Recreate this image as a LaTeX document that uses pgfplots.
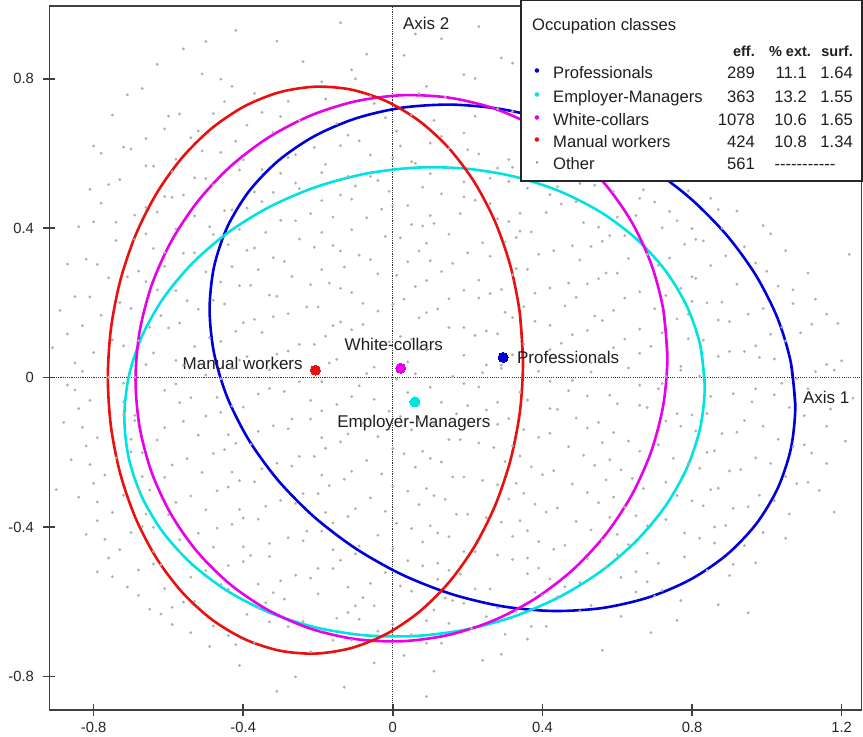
\documentclass[border=0pt]{standalone}
\usepackage{fontspec}
\setmainfont{Liberation Sans}
\usepackage{pgfplots}
\pgfplotsset{compat=1.18}
\definecolor{cBlue}{HTML}{0000D8}
\definecolor{cCyan}{HTML}{00E3E3}
\definecolor{cMag}{HTML}{E800E8}
\definecolor{cRed}{HTML}{EA1010}
\definecolor{cloud}{HTML}{B0B0B0}
\newcommand\lblfont{\fontsize{17}{20}\selectfont}
\newcommand\legfont{\fontsize{16.6}{19}\selectfont}
\newcommand\hdfont{\bfseries\fontsize{14.5}{17}\selectfont}
\newcommand\hy{-\kern0pt}
\begin{document}
\begin{tikzpicture}
\path[use as bounding box] (-49.5pt,-27pt) rectangle (813.5pt,710pt);
\begin{axis}[
 at={(0pt,0pt)}, anchor=south west,
 width=812pt, height=704pt, scale only axis,
 xmin=-0.918, xmax=1.253, ymin=-0.890, ymax=0.995,
 xtick={-0.8,-0.4,0,0.4,0.8,1.2}, ytick={-0.8,-0.4,0,0.4,0.8},
 tick pos=left, tick align=center, major tick length=12pt,
 axis line style={black!75, line width=1.5pt},
 tick style={black!75, line width=1.5pt},
 ticklabel style={font=\fontsize{14.8}{17}\selectfont, text=black!85},
 yticklabel style={xshift=-6pt},
 xticklabel style={yshift=-3pt},
 /pgf/number format/assume math mode=true,
]
% cloud of individuals
\addplot[only marks, color=cloud, mark=*, mark size=1.35pt, mark options={draw=cloud, fill=cloud, line width=0.2pt}] coordinates {
(-0.42,0.93) (-0.14,0.95) (0.06,0.92) (0.23,0.94)
(-0.56,0.88) (-0.31,0.901) (-0.07,0.866) (0.13,0.907) (0.29,0.856)
(-0.63,0.839) (-0.46,0.799) (-0.24,0.846) (-0.11,0.824) (0.03,0.863) (0.19,0.811) (0.32,0.842)
(-0.67,0.774) (-0.51,0.813) (-0.37,0.761) (-0.19,0.792) (-0.06,0.753) (0.09,0.78) (0.22,0.801) (0.35,0.766)
(-0.71,0.757) (-0.57,0.706) (-0.45,0.739) (-0.3,0.699) (-0.18,0.746) (-0.05,0.734) (0.05,0.704) (0.14,0.751) (0.28,0.72) (0.39,0.742)
(-0.75,0.703) (-0.61,0.666) (-0.48,0.707) (-0.39,0.676) (-0.25,0.689) (-0.12,0.649) (-0.02,0.696) (0.11,0.689) (0.19,0.655) (0.32,0.713) (0.45,0.661)
(-0.7,0.612) (-0.54,0.642) (-0.46,0.603) (-0.32,0.657) (-0.21,0.616) (-0.09,0.634) (0.02,0.62) (0.13,0.646) (0.23,0.599) (0.36,0.654) (0.46,0.63)
(-0.78,0.601) (-0.64,0.566) (-0.51,0.607) (-0.41,0.556) (-0.28,0.589) (-0.19,0.549) (-0.06,0.596) (0.06,0.574) (0.15,0.613) (0.28,0.561) (0.38,0.592) (0.51,0.553)
(-0.73,0.53) (-0.59,0.551) (-0.48,0.516) (-0.35,0.557) (-0.25,0.506) (-0.12,0.539) (-0.01,0.499) (0.1,0.546) (0.19,0.524) (0.32,0.563) (0.44,0.511) (0.56,0.542) (0.67,0.503) (0.81,0.534)
(-0.81,0.504) (-0.66,0.456) (-0.56,0.489) (-0.43,0.449) (-0.32,0.496) (-0.19,0.474) (-0.1,0.513) (0.04,0.461) (0.13,0.492) (0.26,0.466) (0.36,0.507) (0.49,0.471) (0.59,0.498) (0.74,0.445) (0.85,0.48)
(-0.74,0.416) (-0.63,0.443) (-0.49,0.404) (-0.39,0.454) (-0.26,0.42) (-0.16,0.43) (-0.03,0.451) (0.08,0.406) (0.18,0.439) (0.31,0.418) (0.41,0.442) (0.55,0.403) (0.65,0.434) (0.8,0.399) (0.92,0.446)
(-0.84,0.404) (-0.69,0.37) (-0.58,0.398) (-0.44,0.356) (-0.34,0.389) (-0.21,0.349) (-0.11,0.396) (0.02,0.374) (0.11,0.413) (0.24,0.361) (0.34,0.392) (0.48,0.353) (0.58,0.38) (0.72,0.401) (0.83,0.366) (0.99,0.407)
(-0.79,0.303) (-0.64,0.346) (-0.53,0.334) (-0.39,0.341) (-0.29,0.311) (-0.16,0.354) (-0.06,0.316) (0.07,0.339) (0.16,0.306) (0.3,0.363) (0.39,0.33) (0.53,0.351) (0.63,0.319) (0.78,0.357) (0.89,0.326) (1.05,0.34)
(-0.87,0.304) (-0.71,0.27) (-0.61,0.298) (-0.46,0.256) (-0.36,0.289) (-0.22,0.249) (-0.13,0.296) (0.01,0.274) (0.1,0.313) (0.23,0.261) (0.33,0.292) (0.47,0.253) (0.57,0.28) (0.71,0.301) (0.81,0.266) (0.97,0.307) (1.11,0.28)
(-0.81,0.216) (-0.66,0.257) (-0.55,0.206) (-0.41,0.246) (-0.31,0.218) (-0.17,0.253) (-0.08,0.199) (0.06,0.244) (0.15,0.211) (0.29,0.236) (0.38,0.226) (0.52,0.251) (0.62,0.213) (0.77,0.239) (0.88,0.202) (1.03,0.245)
(-0.89,0.18) (-0.73,0.201) (-0.62,0.166) (-0.48,0.207) (-0.37,0.156) (-0.23,0.189) (-0.14,0.149) (0,0.196) (0.09,0.174) (0.23,0.213) (0.32,0.161) (0.46,0.192) (0.56,0.153) (0.7,0.184) (0.8,0.204) (0.95,0.17) (1.07,0.198) (1.19,0.145)
(-0.83,0.139) (-0.68,0.099) (-0.57,0.146) (-0.42,0.124) (-0.32,0.163) (-0.18,0.111) (-0.08,0.142) (0.05,0.103) (0.15,0.134) (0.28,0.117) (0.38,0.151) (0.52,0.126) (0.62,0.103) (0.76,0.157) (0.87,0.154) (1.01,0.116) (1.12,0.143)
(-0.91,0.08) (-0.75,0.101) (-0.64,0.066) (-0.49,0.107) (-0.39,0.056) (-0.25,0.089) (-0.15,0.049) (-0.01,0.096) (0.09,0.074) (0.22,0.113) (0.32,0.061) (0.45,0.092) (0.55,0.053) (0.69,0.084) (0.79,0.104) (0.94,0.07) (1.05,0.098) (1.2,0.045)
(-0.85,0.039) (-0.69,0.001) (-0.58,0.046) (-0.43,0.024) (-0.31,0.063) (-0.07,0.011) (0.04,0.042) (0.16,0.003) (0.25,0.034) (0.39,0.017) (0.49,0.051) (0.63,0.026) (0.73,0.003) (0.87,0.057) (0.98,0.054) (1.13,0.016)
(-0.87,-0.02) (-0.76,0.001) (-0.61,-0.034) (-0.5,0.007) (-0.36,-0.044) (-0.25,-0.011) (-0.11,-0.051) (0.01,-0.004) (0.1,-0.026) (0.24,0.013) (0.34,-0.039) (0.48,-0.008) (0.58,-0.047) (0.72,-0.016) (0.82,0.004) (0.97,-0.03) (1.08,-0.002) (1.23,-0.055)
(-0.81,-0.061) (-0.69,-0.101) (-0.54,-0.054) (-0.43,-0.076) (-0.29,-0.037) (-0.19,-0.089) (-0.05,-0.058) (0.17,-0.097) (0.28,-0.066) (0.42,-0.083) (0.52,-0.049) (0.66,-0.074) (0.76,-0.097) (0.91,-0.043) (1.02,-0.046) (1.17,-0.084)
(-0.88,-0.12) (-0.72,-0.099) (-0.61,-0.134) (-0.46,-0.093) (-0.36,-0.144) (-0.22,-0.111) (-0.12,-0.151) (0.02,-0.104) (0.11,-0.126) (0.25,-0.087) (0.35,-0.139) (0.49,-0.108) (0.59,-0.147) (0.73,-0.116) (0.84,-0.096) (0.99,-0.13) (1.1,-0.102)
(-0.79,-0.161) (-0.67,-0.201) (-0.52,-0.154) (-0.42,-0.176) (-0.28,-0.137) (-0.18,-0.189) (-0.04,-0.158) (0.08,-0.197) (0.18,-0.166) (0.32,-0.183) (0.42,-0.149) (0.56,-0.174) (0.66,-0.197) (0.81,-0.143) (0.92,-0.146) (1.07,-0.184) (1.21,-0.17)
(-0.86,-0.22) (-0.7,-0.199) (-0.59,-0.234) (-0.45,-0.193) (-0.35,-0.244) (-0.21,-0.211) (-0.11,-0.251) (0.03,-0.204) (0.13,-0.226) (0.27,-0.187) (0.37,-0.239) (0.51,-0.208) (0.61,-0.247) (0.75,-0.216) (0.86,-0.196) (1.01,-0.23) (1.12,-0.202)
(-0.77,-0.261) (-0.65,-0.301) (-0.51,-0.254) (-0.41,-0.276) (-0.27,-0.237) (-0.17,-0.289) (-0.03,-0.258) (0.09,-0.297) (0.19,-0.266) (0.33,-0.283) (0.43,-0.249) (0.57,-0.274) (0.67,-0.297) (0.82,-0.243) (0.93,-0.246) (1.08,-0.284)
(-0.84,-0.32) (-0.68,-0.299) (-0.58,-0.334) (-0.44,-0.293) (-0.34,-0.344) (-0.2,-0.311) (-0.1,-0.351) (0.04,-0.304) (0.14,-0.326) (0.28,-0.287) (0.38,-0.339) (0.52,-0.308) (0.62,-0.347) (0.76,-0.316) (0.87,-0.296) (1.02,-0.33) (1.14,-0.302)
(-0.75,-0.361) (-0.64,-0.401) (-0.5,-0.354) (-0.4,-0.376) (-0.26,-0.337) (-0.16,-0.389) (-0.02,-0.358) (0.1,-0.397) (0.2,-0.366) (0.34,-0.383) (0.44,-0.349) (0.58,-0.374) (0.68,-0.397) (0.83,-0.343) (0.95,-0.346)
(-0.82,-0.42) (-0.67,-0.399) (-0.57,-0.434) (-0.43,-0.393) (-0.33,-0.444) (-0.19,-0.411) (-0.09,-0.451) (0.05,-0.404) (0.15,-0.426) (0.29,-0.387) (0.39,-0.439) (0.53,-0.408) (0.63,-0.447) (0.78,-0.416) (0.89,-0.396) (1.05,-0.43)
(-0.73,-0.461) (-0.62,-0.501) (-0.48,-0.454) (-0.38,-0.476) (-0.24,-0.437) (-0.14,-0.489) (0,-0.458) (0.12,-0.497) (0.22,-0.466) (0.36,-0.483) (0.46,-0.449) (0.6,-0.474) (0.71,-0.497) (0.86,-0.443)
(-0.79,-0.52) (-0.64,-0.499) (-0.54,-0.534) (-0.4,-0.493) (-0.3,-0.544) (-0.16,-0.511) (-0.06,-0.551) (0.08,-0.504) (0.18,-0.526) (0.32,-0.487) (0.42,-0.539) (0.57,-0.508) (0.68,-0.547) (0.84,-0.516) (0.97,-0.496)
(-0.71,-0.561) (-0.56,-0.601) (-0.46,-0.554) (-0.32,-0.576) (-0.22,-0.537) (-0.08,-0.589) (0.02,-0.558) (0.16,-0.597) (0.26,-0.566) (0.4,-0.583) (0.5,-0.549) (0.65,-0.574) (0.77,-0.597)
(-0.65,-0.62) (-0.53,-0.599) (-0.39,-0.634) (-0.29,-0.593) (-0.15,-0.644) (-0.05,-0.611) (0.09,-0.651) (0.19,-0.604) (0.33,-0.626) (0.44,-0.587) (0.61,-0.639) (0.87,-0.608)
(-0.59,-0.661) (-0.44,-0.691) (-0.33,-0.654) (-0.19,-0.676) (-0.09,-0.647) (0.05,-0.689) (0.15,-0.658) (0.3,-0.687) (0.41,-0.666) (0.69,-0.683)
(-0.49,-0.72) (-0.37,-0.709) (-0.22,-0.734) (-0.11,-0.703) (0.03,-0.744) (0.13,-0.711) (0.29,-0.741)
(-0.41,-0.771) (-0.26,-0.801) (-0.05,-0.764) (0.11,-0.786) (0.24,-0.757)
(-0.31,-0.84) (-0.13,-0.829) (0.09,-0.854)
(1.22,0.33) (1.18,-0.36) (0.95,-0.63) (0.56,-0.73) (-0.5,0.9) (-0.8,0.62) (-0.9,-0.3) (0.17,-0.9)
(-0.72,0.617) (-0.58,0.585) (-0.42,0.633) (-0.26,0.597) (-0.14,0.621) (0.0,0.589) (0.1,0.628) (0.2,0.61) (0.31,0.584)
(-0.66,0.567) (-0.53,0.535) (-0.4,0.583) (-0.3,0.547) (-0.18,0.571) (-0.06,0.539) (0.05,0.578) (0.15,0.56) (0.26,0.534) (0.38,0.575) (0.5,0.52) (0.62,0.55) (0.74,0.53)
(-0.76,0.517) (-0.61,0.485) (-0.5,0.533) (-0.37,0.497) (-0.26,0.521) (-0.14,0.489) (-0.04,0.528) (0.08,0.51) (0.19,0.484) (0.31,0.525) (0.42,0.49) (0.54,0.515) (0.66,0.48) (0.79,0.5)
(-0.78,0.467) (-0.69,0.435) (-0.59,0.483) (-0.45,0.447) (-0.35,0.471) (-0.22,0.439) (-0.11,0.478) (0.0,0.46) (0.1,0.434) (0.22,0.475) (0.34,0.44) (0.45,0.465) (0.6,0.43) (0.7,0.47) (0.87,0.45)
(-0.8,0.417) (-0.66,0.385) (-0.53,0.433) (-0.41,0.397) (-0.3,0.421) (-0.19,0.389) (-0.07,0.428) (0.05,0.41) (0.15,0.384) (0.28,0.425) (0.37,0.39) (0.51,0.415) (0.62,0.38) (0.76,0.42) (0.88,0.4) (1.01,0.385)
(-0.74,0.367) (-0.61,0.335) (-0.48,0.383) (-0.37,0.347) (-0.25,0.371) (-0.14,0.339) (-0.02,0.378) (0.09,0.36) (0.2,0.334) (0.33,0.375) (0.43,0.34) (0.56,0.365) (0.68,0.33) (0.81,0.37) (0.94,0.35)
(-0.82,0.317) (-0.68,0.285) (-0.56,0.333) (-0.43,0.297) (-0.32,0.321) (-0.19,0.289) (-0.09,0.328) (0.04,0.31) (0.13,0.284) (0.26,0.325) (0.36,0.29) (0.5,0.315) (0.6,0.28) (0.74,0.32) (0.85,0.3) (1.0,0.285)
(-0.76,0.267) (-0.63,0.235) (-0.5,0.283) (-0.38,0.247) (-0.27,0.271) (-0.14,0.239) (-0.04,0.278) (0.09,0.26) (0.19,0.234) (0.32,0.275) (0.42,0.24) (0.55,0.265) (0.66,0.23) (0.8,0.27) (0.92,0.25) (1.07,0.235)
(-0.85,0.217) (-0.7,0.185) (-0.58,0.233) (-0.45,0.197) (-0.33,0.221) (-0.2,0.189) (-0.11,0.228) (0.03,0.21) (0.12,0.184) (0.26,0.225) (0.35,0.19) (0.49,0.215) (0.59,0.18) (0.73,0.22) (0.84,0.2) (0.99,0.185) (1.13,0.21)
(-0.78,0.167) (-0.65,0.135) (-0.52,0.183) (-0.4,0.147) (-0.28,0.171) (-0.16,0.139) (-0.04,0.178) (0.07,0.16) (0.19,0.134) (0.3,0.175) (0.42,0.14) (0.54,0.165) (0.66,0.13) (0.79,0.17) (0.9,0.15) (1.04,0.135) (1.16,0.17)
(-0.87,0.117) (-0.72,0.085) (-0.6,0.133) (-0.46,0.097) (-0.35,0.121) (-0.21,0.089) (-0.11,0.128) (0.02,0.11) (0.12,0.084) (0.25,0.125) (0.35,0.09) (0.48,0.115) (0.59,0.08) (0.72,0.12) (0.83,0.1) (0.97,0.085) (1.09,0.12)
(-0.8,0.067) (-0.66,0.035) (-0.53,0.083) (-0.41,0.047) (-0.28,0.071) (-0.17,0.039) (0.07,0.078) (0.19,0.06) (0.29,0.034) (0.42,0.075) (0.53,0.04) (0.66,0.065) (0.77,0.03) (0.9,0.07) (1.02,0.05) (1.16,0.035)
(-0.83,0.017) (-0.72,-0.015) (-0.56,0.033) (-0.46,-0.003) (-0.33,0.021) (-0.19,-0.011) (-0.05,0.028) (0.06,0.01) (0.19,-0.016) (0.29,0.025) (0.42,-0.01) (0.53,0.015) (0.66,-0.02) (0.77,0.02) (0.9,0.0) (1.04,-0.015) (1.18,0.02)
(-0.85,-0.033) (-0.72,-0.065) (-0.58,-0.017) (-0.47,-0.053) (-0.33,-0.029) (-0.22,-0.061) (-0.09,-0.022) (0.04,-0.04) (0.13,-0.066) (0.23,-0.025) (0.36,-0.06) (0.47,-0.035) (0.6,-0.07) (0.71,-0.03) (0.85,-0.05) (0.96,-0.065) (1.11,-0.03)
(-0.84,-0.083) (-0.69,-0.115) (-0.57,-0.067) (-0.5,-0.103) (-0.4,-0.079) (-0.27,-0.111) (-0.15,-0.072) (-0.01,-0.09) (0.07,-0.116) (0.2,-0.075) (0.31,-0.11) (0.44,-0.085) (0.55,-0.12) (0.68,-0.08) (0.8,-0.1) (0.94,-0.115) (1.06,-0.08)
(-0.83,-0.133) (-0.7,-0.165) (-0.56,-0.117) (-0.44,-0.153) (-0.32,-0.129) (-0.19,-0.161) (-0.08,-0.122) (0.05,-0.14) (0.15,-0.166) (0.28,-0.125) (0.39,-0.16) (0.52,-0.135) (0.63,-0.17) (0.77,-0.13) (0.88,-0.15) (1.03,-0.165) (1.16,-0.13)
(-0.82,-0.183) (-0.74,-0.215) (-0.63,-0.167) (-0.48,-0.203) (-0.38,-0.179) (-0.25,-0.211) (-0.14,-0.172) (0.0,-0.19) (0.1,-0.216) (0.23,-0.175) (0.34,-0.21) (0.47,-0.185) (0.58,-0.22) (0.71,-0.18) (0.84,-0.2) (0.97,-0.215) (1.1,-0.18)
(-0.81,-0.233) (-0.67,-0.265) (-0.55,-0.217) (-0.43,-0.253) (-0.31,-0.229) (-0.19,-0.261) (-0.07,-0.222) (0.06,-0.24) (0.16,-0.266) (0.3,-0.225) (0.4,-0.26) (0.54,-0.235) (0.64,-0.27) (0.79,-0.23) (0.9,-0.25) (1.05,-0.265) (1.16,-0.23)
(-0.8,-0.283) (-0.72,-0.315) (-0.61,-0.267) (-0.47,-0.303) (-0.37,-0.279) (-0.24,-0.311) (-0.13,-0.272) (0.0,-0.29) (0.11,-0.316) (0.24,-0.275) (0.35,-0.31) (0.48,-0.285) (0.59,-0.32) (0.73,-0.28) (0.85,-0.3) (0.98,-0.315) (1.11,-0.28)
(-0.79,-0.333) (-0.66,-0.365) (-0.54,-0.317) (-0.41,-0.353) (-0.3,-0.329) (-0.18,-0.361) (-0.06,-0.322) (0.07,-0.34) (0.17,-0.366) (0.31,-0.325) (0.41,-0.36) (0.55,-0.335) (0.65,-0.37) (0.8,-0.33) (0.91,-0.35) (1.06,-0.365)
(-0.79,-0.383) (-0.7,-0.415) (-0.6,-0.367) (-0.47,-0.403) (-0.36,-0.379) (-0.23,-0.411) (-0.12,-0.372) (0.01,-0.39) (0.12,-0.416) (0.25,-0.375) (0.36,-0.41) (0.49,-0.385) (0.6,-0.42) (0.73,-0.38) (0.86,-0.4) (0.99,-0.415)
(-0.77,-0.433) (-0.64,-0.465) (-0.52,-0.417) (-0.4,-0.453) (-0.28,-0.429) (-0.16,-0.461) (-0.04,-0.422) (0.08,-0.44) (0.19,-0.466) (0.32,-0.425) (0.43,-0.46) (0.56,-0.435) (0.68,-0.47) (0.82,-0.43) (0.94,-0.45)
(-0.76,-0.483) (-0.68,-0.515) (-0.57,-0.467) (-0.44,-0.503) (-0.33,-0.479) (-0.2,-0.511) (-0.1,-0.472) (0.04,-0.49) (0.15,-0.516) (0.28,-0.475) (0.39,-0.51) (0.52,-0.485) (0.65,-0.52) (0.78,-0.48) (0.91,-0.5)
(-0.75,-0.533) (-0.61,-0.565) (-0.5,-0.517) (-0.36,-0.553) (-0.26,-0.529) (-0.12,-0.561) (-0.02,-0.522) (0.12,-0.54) (0.22,-0.566) (0.36,-0.525) (0.46,-0.56) (0.61,-0.535) (0.72,-0.57) (0.9,-0.53)
(-0.68,-0.583) (-0.59,-0.615) (-0.44,-0.567) (-0.34,-0.603) (-0.2,-0.579) (-0.1,-0.611) (0.05,-0.572) (0.14,-0.59) (0.28,-0.616) (0.38,-0.575) (0.53,-0.61) (0.7,-0.585)
(-0.62,-0.633) (-0.48,-0.665) (-0.36,-0.617) (-0.24,-0.653) (-0.12,-0.629) (0.0,-0.661) (0.11,-0.622) (0.25,-0.64) (0.37,-0.666) (0.5,-0.625) (0.76,-0.65)
(-0.54,-0.683) (-0.42,-0.715) (-0.28,-0.667) (-0.16,-0.703) (-0.04,-0.679) (0.09,-0.711) (0.21,-0.672) (0.36,-0.7)
(-0.6,0.7) (-0.43,0.78) (-0.28,0.74) (-0.1,0.8) (0.07,0.76) (-0.52,0.66) (-0.35,0.71) (-0.15,0.68) (0.01,0.66) (0.22,0.7) (-0.66,0.64) (0.4,0.6)
};
% dotted axes through the origin
\addplot[black!80, line width=0.9pt, dash pattern=on 1.1pt off 1.1pt] coordinates {(0,-0.890) (0,0.995)};
\addplot[black!80, line width=0.9pt, dash pattern=on 1.1pt off 1.1pt] coordinates {(-0.918,0) (1.253,0)};
% concentration ellipses
\addplot[cBlue, line width=2.6pt, smooth, line join=round] coordinates {
(1.076,-0.077) (1.0641,0.0405) (1.0288,0.1584) (0.9711,0.2731) (0.8928,0.3811) (0.7963,0.4791) (0.6845,0.5642) (0.5608,0.6338) (0.4289,0.6857) (0.293,0.7184) (0.1571,0.7309) (0.0252,0.7228) (-0.0985,0.6942) (-0.2103,0.6463) (-0.3068,0.5803) (-0.3851,0.4983) (-0.4428,0.4028) (-0.4781,0.2965) (-0.49,0.183) (-0.4781,0.0655) (-0.4428,-0.0524) (-0.3851,-0.1671) (-0.3068,-0.2751) (-0.2103,-0.3731) (-0.0985,-0.4582) (0.0252,-0.5278) (0.1571,-0.5797) (0.293,-0.6124) (0.4289,-0.6249) (0.5608,-0.6168) (0.6845,-0.5882) (0.7963,-0.5403) (0.8928,-0.4743) (0.9711,-0.3923) (1.0288,-0.2968) (1.0641,-0.1905) (1.076,-0.077) (1.0641,0.0405)};
\addplot[cCyan, line width=2.6pt, smooth, line join=round] coordinates {
(0.834,-0.023) (0.8222,0.0852) (0.7872,0.1889) (0.73,0.2849) (0.6524,0.3702) (0.5568,0.4423) (0.446,0.499) (0.3234,0.5386) (0.1927,0.5598) (0.058,0.562) (-0.0767,0.5452) (-0.2074,0.5098) (-0.33,0.457) (-0.4408,0.3883) (-0.5364,0.3058) (-0.614,0.2121) (-0.6712,0.1099) (-0.7062,0.0024) (-0.718,-0.107) (-0.7062,-0.2152) (-0.6712,-0.3189) (-0.614,-0.4149) (-0.5364,-0.5002) (-0.4408,-0.5723) (-0.33,-0.629) (-0.2074,-0.6686) (-0.0767,-0.6898) (0.058,-0.692) (0.1927,-0.6752) (0.3234,-0.6398) (0.446,-0.587) (0.5568,-0.5183) (0.6524,-0.4358) (0.73,-0.3421) (0.7872,-0.2399) (0.8222,-0.1324) (0.834,-0.023) (0.8222,0.0852)};
\addplot[cMag, line width=2.6pt, smooth, line join=round] coordinates {
(0.734,0.055) (0.7232,0.1814) (0.6911,0.3032) (0.6387,0.4165) (0.5676,0.5179) (0.48,0.6043) (0.3785,0.673) (0.2662,0.7222) (0.1464,0.7501) (0.023,0.756) (-0.1004,0.7397) (-0.2202,0.7016) (-0.3325,0.643) (-0.434,0.5657) (-0.5216,0.4719) (-0.5927,0.3645) (-0.6451,0.2468) (-0.6772,0.1224) (-0.688,-0.005) (-0.6772,-0.1314) (-0.6451,-0.2532) (-0.5927,-0.3665) (-0.5216,-0.4679) (-0.434,-0.5543) (-0.3325,-0.623) (-0.2202,-0.6722) (-0.1004,-0.7001) (0.023,-0.706) (0.1464,-0.6897) (0.2662,-0.6516) (0.3785,-0.593) (0.48,-0.5157) (0.5676,-0.4219) (0.6387,-0.3145) (0.6911,-0.1968) (0.7232,-0.0724) (0.734,0.055) (0.7232,0.1814)};
\addplot[cRed, line width=2.6pt, smooth, line join=round] coordinates {
(0.348,0.040) (0.3396,0.1715) (0.3145,0.2984) (0.2736,0.4168) (0.2181,0.5232) (0.1498,0.6143) (0.0705,0.6873) (-0.0172,0.7400) (-0.1107,0.7710) (-0.207,0.779) (-0.3033,0.7640) (-0.3968,0.7264) (-0.4845,0.6673) (-0.5638,0.5885) (-0.6321,0.4926) (-0.6876,0.3822) (-0.7285,0.2608) (-0.7536,0.1321) (-0.762,0) (-0.7536,-0.1315) (-0.7285,-0.2584) (-0.6876,-0.3768) (-0.6321,-0.4832) (-0.5638,-0.5743) (-0.4845,-0.6473) (-0.3968,-0.7000) (-0.3033,-0.7310) (-0.207,-0.739) (-0.1107,-0.7240) (-0.0172,-0.6864) (0.0705,-0.6273) (0.1498,-0.5485) (0.2181,-0.4526) (0.2736,-0.3422) (0.3145,-0.2208) (0.3396,-0.0921) (0.348,0.040) (0.3396,0.1715)};
% category mean points
\addplot[only marks, color=cBlue, mark=*, mark size=5pt, mark options={draw=cBlue, fill=cBlue, line width=0pt}] coordinates {(0.295,0.054)};
\addplot[only marks, color=cCyan, mark=*, mark size=5pt, mark options={draw=cCyan, fill=cCyan, line width=0pt}] coordinates {(0.059,-0.065)};
\addplot[only marks, color=cMag, mark=*, mark size=5pt, mark options={draw=cMag, fill=cMag, line width=0pt}] coordinates {(0.021,0.025)};
\addplot[only marks, color=cRed, mark=*, mark size=5pt, mark options={draw=cRed, fill=cRed, line width=0pt}] coordinates {(-0.207,0.020)};
% labels
\node[anchor=base west, inner sep=0pt, font=\lblfont, text=black!88] at (axis cs:0.3316,0.0388) {Professionals};
\node[anchor=base, inner sep=0pt, font=\lblfont, text=black!88] at (axis cs:0.0027,0.0737) {White-collars};
\node[anchor=base east, inner sep=0pt, font=\lblfont, text=black!88] at (axis cs:-0.2406,0.0228) {Manual workers};
\node[anchor=base, inner sep=0pt, font=\lblfont, text=black!88] at (axis cs:0.0561,-0.1345) {Employer-Managers};
\node[anchor=base west, inner sep=0pt, font=\lblfont, text=black!88] at (axis cs:0.0267,0.9309) {Axis 2};
\node[anchor=base west, inner sep=0pt, font=\lblfont, text=black!88] at (axis cs:1.0963,-0.0683) {Axis 1};
\end{axis}
% legend box
\draw[black!85, line width=1.5pt, fill=white] (471.5pt,709.5pt) rectangle (812.5pt,529pt);
\begin{scope}[every node/.style={inner sep=0pt, text=black!88}]
\node[anchor=base west, font=\legfont] at (482.5pt,679pt) {Occupation classes};
\node[anchor=base east, font=\hdfont] at (705.5pt,653pt) {eff.};
\node[anchor=base, font=\hdfont] at (740.5pt,653pt) {\% ext.};
\node[anchor=base east, font=\hdfont] at (803.5pt,653pt) {surf.};
\node[font=\legfont, text=cBlue] at (487.5pt,637.3pt) {•};
\node[font=\legfont, text=cCyan] at (487.5pt,613.3pt) {•};
\node[font=\legfont, text=cMag] at (487.5pt,590pt) {•};
\node[font=\legfont, text=cRed] at (487.5pt,568.3pt) {•};
\node[font=\fontsize{8}{8}\selectfont, text=black!50] at (487.5pt,546pt) {•};
\node[anchor=base west, font=\legfont] at (503.5pt,631.3pt) {Professionals};
\node[anchor=base west, font=\legfont] at (503.5pt,607.3pt) {Employer-Managers};
\node[anchor=base west, font=\legfont] at (503.5pt,584pt) {White-collars};
\node[anchor=base west, font=\legfont] at (503.5pt,562.3pt) {Manual workers};
\node[anchor=base west, font=\legfont] at (503.5pt,540pt) {Other};
\node[anchor=base east, font=\legfont] at (705.5pt,631.3pt) {289};
\node[anchor=base east, font=\legfont] at (705.5pt,607.3pt) {363};
\node[anchor=base east, font=\legfont] at (705.5pt,584pt) {1078};
\node[anchor=base east, font=\legfont] at (705.5pt,562.3pt) {424};
\node[anchor=base east, font=\legfont] at (705.5pt,540pt) {561};
\node[anchor=base east, font=\legfont] at (757.5pt,631.3pt) {11.1};
\node[anchor=base east, font=\legfont] at (757.5pt,607.3pt) {13.2};
\node[anchor=base east, font=\legfont] at (757.5pt,584pt) {10.6};
\node[anchor=base east, font=\legfont] at (757.5pt,562.3pt) {10.8};
\node[anchor=base east, font=\legfont] at (803.5pt,631.3pt) {1.64};
\node[anchor=base east, font=\legfont] at (803.5pt,607.3pt) {1.55};
\node[anchor=base east, font=\legfont] at (803.5pt,584pt) {1.65};
\node[anchor=base east, font=\legfont] at (803.5pt,562.3pt) {1.34};
\node[anchor=base, font=\legfont] at (755.5pt,540pt) {\hy\hy\hy\hy\hy\hy\hy\hy\hy\hy\hy};
\end{scope}
\end{tikzpicture}
\end{document}
